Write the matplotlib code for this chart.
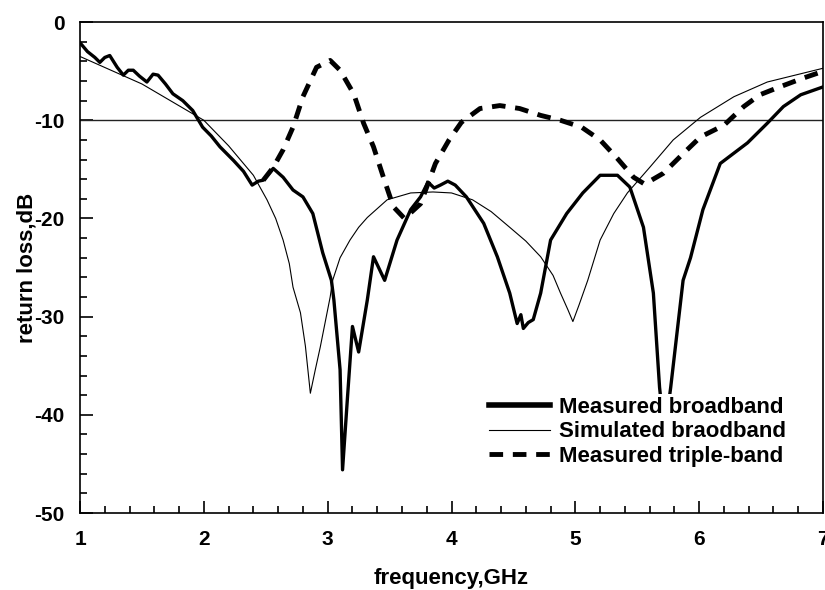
import matplotlib.pyplot as plt
from matplotlib.ticker import MultipleLocator

plt.rcParams['font.family'] = ['Liberation Sans', 'DejaVu Sans']
plt.rcParams['font.weight'] = 'bold'
plt.rcParams['axes.unicode_minus'] = False

# Measured broadband (thick solid)
meas_f = [1.0, 1.06, 1.12, 1.16, 1.2, 1.24, 1.3, 1.35, 1.39, 1.43, 1.48, 1.54, 1.59, 1.63, 1.69,
          1.75, 1.83, 1.91, 1.99, 2.06, 2.13, 2.24, 2.32, 2.39, 2.44, 2.48, 2.56, 2.64, 2.72, 2.80,
          2.88, 2.96, 3.03, 3.05, 3.10, 3.12, 3.16, 3.20, 3.25, 3.32, 3.37, 3.46, 3.56, 3.67, 3.75,
          3.81, 3.86, 3.91, 3.97, 4.03, 4.12, 4.26, 4.37, 4.47, 4.53, 4.56, 4.58, 4.62, 4.66, 4.72,
          4.80, 4.93, 5.06, 5.20, 5.34, 5.44, 5.55, 5.63, 5.68, 5.72, 5.77, 5.87, 5.93, 6.03, 6.17,
          6.39, 6.55, 6.68, 6.82, 7.0]
meas_db = [-2.1, -3.0, -3.6, -4.1, -3.6, -3.4, -4.6, -5.4, -4.9, -4.9, -5.5, -6.1, -5.3, -5.4, -6.3,
           -7.3, -8.0, -9.0, -10.7, -11.6, -12.7, -14.1, -15.2, -16.6, -16.2, -16.1, -14.9, -15.8, -17.1, -17.8,
           -19.5, -23.5, -26.3, -28.3, -35.4, -45.6, -38.2, -31.0, -33.6, -28.3, -23.9, -26.3, -22.2, -19.1, -17.8,
           -16.3, -16.9, -16.6, -16.2, -16.6, -17.8, -20.5, -23.9, -27.6, -30.7, -29.8, -31.2, -30.6, -30.3, -27.6,
           -22.2, -19.5, -17.4, -15.6, -15.6, -16.8, -20.9, -27.6, -37.2, -42.0, -37.2, -26.3, -24.0, -19.1, -14.4,
           -12.3, -10.3, -8.6, -7.4, -6.6]

# Simulated broadband (thin solid)
sim_f = [1.0, 1.5, 2.0, 2.2, 2.4, 2.51, 2.58, 2.64, 2.69, 2.72, 2.78, 2.82, 2.86, 2.90, 2.94, 3.02, 3.04,
         3.10, 3.18, 3.25, 3.32, 3.48, 3.67, 3.85, 4.0, 4.17, 4.32, 4.47, 4.60, 4.72, 4.82, 4.88, 4.94, 4.98,
         5.03, 5.1, 5.2, 5.31, 5.42, 5.6, 5.79, 6.01, 6.28, 6.55, 7.0]
sim_db = [-3.5, -6.3, -10.0, -12.6, -15.6, -18.1, -20.0, -22.2, -24.6, -27.0, -29.6, -33.0, -37.8, -35.4, -33.1, -28.0, -26.3,
          -24.0, -22.2, -20.9, -19.9, -18.1, -17.4, -17.3, -17.4, -18.1, -19.3, -20.9, -22.3, -23.9, -25.8, -27.6, -29.3, -30.5,
          -28.8, -26.3, -22.2, -19.5, -17.4, -14.8, -12.0, -9.7, -7.6, -6.1, -4.7]

# Measured triple-band (thick dashed)
tri_f = [2.48, 2.56, 2.64, 2.72, 2.80, 2.91, 3.02, 3.10, 3.21, 3.29, 3.37, 3.45, 3.53, 3.62, 3.75,
         3.87, 3.98, 4.08, 4.23, 4.39, 4.55, 4.72, 4.88, 5.05, 5.20, 5.34, 5.47, 5.56, 5.71, 5.87,
         6.01, 6.20, 6.36, 6.49, 6.65, 6.84, 6.98]
tri_db = [-16.1, -14.8, -13.0, -10.7, -7.6, -4.6, -3.9, -4.9, -7.3, -10.3, -12.7, -15.8, -18.8, -20.0, -18.5,
          -14.4, -12.0, -10.2, -8.8, -8.5, -8.8, -9.5, -10.0, -10.7, -12.0, -13.9, -15.8, -16.5, -15.4, -13.4,
          -11.7, -10.5, -8.6, -7.4, -6.6, -5.7, -5.1]

fig = plt.figure(figsize=(8.25, 5.9), dpi=100)
ax = fig.add_axes([0.097, 0.1305, 0.9006, 0.832])

ax.axhline(-10, color='#222222', linewidth=1.0)
ax.plot(meas_f, meas_db, color='black', linewidth=2.4, label='Measured broadband')
ax.plot(sim_f, sim_db, color='black', linewidth=0.8, label='Simulated braodband')
ax.plot(tri_f, tri_db, color='black', linewidth=3.5, linestyle=(0, (2.8, 2.0)),
        label='Measured triple-band')

ax.set_xlim(1, 7)
ax.set_ylim(-50, 0)
ax.xaxis.set_major_locator(MultipleLocator(1))
ax.xaxis.set_minor_locator(MultipleLocator(0.2))
ax.yaxis.set_major_locator(MultipleLocator(10))
ax.yaxis.set_minor_locator(MultipleLocator(2))
ax.tick_params(which='both', direction='in', top=False, right=False, labelsize=15, width=1.2)
ax.tick_params(which='major', length=9)
ax.tick_params(which='minor', length=5)
ax.tick_params(axis='x', which='major', pad=12)
ax.tick_params(axis='y', which='major', pad=11)
for s in ax.spines.values():
    s.set_linewidth(1.2)

ax.set_xlabel('frequency,GHz', fontsize=16, fontweight='bold', labelpad=14)
ax.set_ylabel('return loss,dB', fontsize=16, fontweight='bold', labelpad=-2)

leg = ax.legend(loc='lower right', bbox_to_anchor=(0.97, 0.065), fontsize=16, frameon=True,
                framealpha=1, edgecolor='none', handlelength=2.75, labelspacing=0.15,
                borderpad=0.15, handletextpad=0.4)
leg.get_lines()[0].set_linewidth(4.0)

plt.savefig('out.png', dpi=100)
plt.close()
